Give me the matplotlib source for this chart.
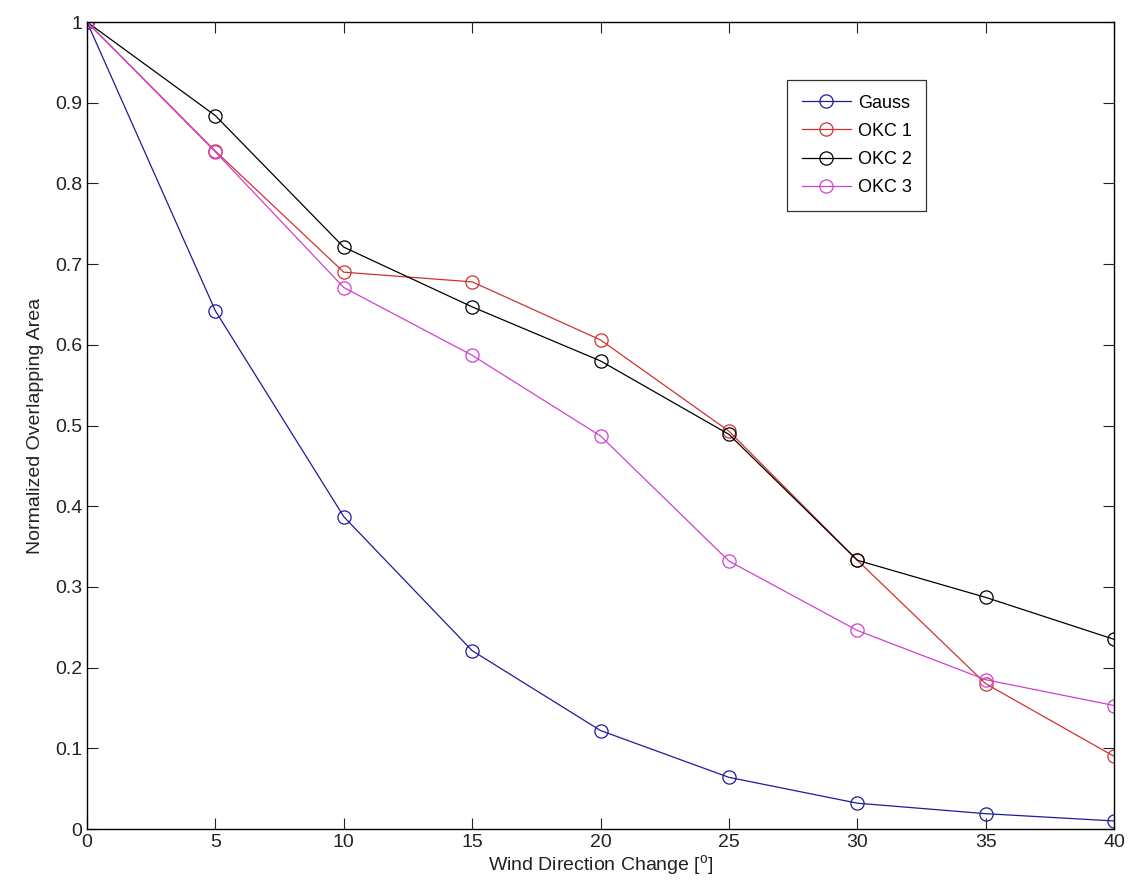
import matplotlib
matplotlib.use("Agg")
import matplotlib.pyplot as plt

# Data
angle = [0, 5, 10, 15, 20, 25, 30, 35, 40]
gauss = [1.0, 0.642, 0.387, 0.221, 0.122, 0.064, 0.032, 0.019, 0.010]
okc1 = [1.0, 0.840, 0.690, 0.678, 0.606, 0.493, 0.333, 0.180, 0.090]
okc2 = [1.0, 0.884, 0.721, 0.647, 0.580, 0.489, 0.333, 0.287, 0.235]
okc3 = [1.0, 0.839, 0.671, 0.587, 0.487, 0.332, 0.246, 0.185, 0.153]

plt.rcParams["font.family"] = ["Liberation Sans", "DejaVu Sans"]

fig = plt.figure(figsize=(11.3, 8.81), dpi=100)
ax = fig.add_axes([0.077, 0.059, 0.909, 0.916])

style = dict(marker="o", markerfacecolor="none", markersize=9.5, linewidth=0.9, markeredgewidth=0.9)
ax.plot(angle, gauss, color="#1c1c9c", label="Gauss", **style)
ax.plot(angle, okc1, color="#d03232", label="OKC 1", **style)
ax.plot(angle, okc2, color="black", label="OKC 2", **style)
ax.plot(angle, okc3, color="#d040d0", label="OKC 3", **style)

ax.set_xlim(0, 40)
ax.set_ylim(0, 1)
ax.set_xticks(range(0, 41, 5))
ax.set_yticks([i / 10 for i in range(11)])
ax.set_yticklabels(["0", "0.1", "0.2", "0.3", "0.4", "0.5", "0.6", "0.7", "0.8", "0.9", "1"])
ax.tick_params(direction="in", length=8, top=True, right=True, labelsize=14, colors="#222222")
for s in ax.spines.values():
    s.set_linewidth(1.0)

ax.set_xlabel("Wind Direction Change [$^{\\mathregular{o}}$]", fontsize=14, color="#222222", labelpad=2)
ax.set_ylabel("Normalized Overlapping Area", fontsize=14, color="#222222", labelpad=8)

leg = ax.legend(loc="upper right", bbox_to_anchor=(0.817, 0.928), borderaxespad=0, fontsize=13,
                frameon=True, fancybox=False, borderpad=0.8, handlelength=2.7,
                handletextpad=0.4, labelspacing=0.62)
leg.get_frame().set_edgecolor("black")
leg.get_frame().set_linewidth(0.9)

fig.savefig("out.png", dpi=100)
